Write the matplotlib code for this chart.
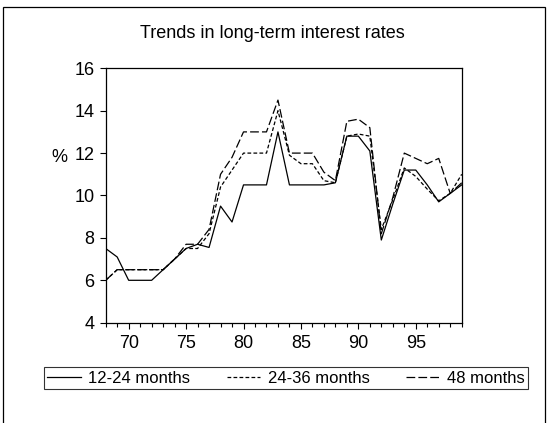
import matplotlib
matplotlib.use("Agg")
import matplotlib.pyplot as plt
from matplotlib.patches import Rectangle

plt.rcParams['font.family'] = ['Liberation Sans', 'DejaVu Sans']

years = list(range(68, 100))
s_12_24 = [7.5, 7.1, 6.0, 6.0, 6.0, 6.5, 7.0, 7.5, 7.7, 7.55, 9.5, 8.75, 10.5, 10.5, 10.5, 13.0,
           10.5, 10.5, 10.5, 10.5, 10.6, 12.8, 12.8, 12.1, 7.9, 9.6, 11.2, 11.2, 10.5, 9.7, 10.1, 10.5]
s_24_36 = [6.0, 6.5, 6.5, 6.5, 6.5, 6.5, 7.0, 7.5, 7.5, 8.2, 10.4, 11.2, 12.0, 12.0, 12.0, 14.0,
           11.9, 11.5, 11.5, 10.7, 10.6, 12.8, 12.9, 12.8, 8.4, 9.8, 11.3, 10.9, 10.3, 9.75, 10.1, 11.0]
s_48 = [6.0, 6.5, 6.5, 6.5, 6.5, 6.5, 7.0, 7.7, 7.7, 8.4, 11.0, 11.8, 13.0, 13.0, 13.0, 14.5,
        12.0, 12.0, 12.0, 11.1, 10.7, 13.5, 13.6, 13.2, 8.2, 9.9, 12.0, 11.75, 11.5, 11.75, 10.1, 10.6]
labels = ['12-24 months', '24-36 months', '48 months']
xticks = [70, 75, 80, 85, 90, 95]
yticks = [4, 6, 8, 10, 12, 14, 16]

W, H = 548, 423
fig = plt.figure(figsize=(W / 100, H / 100), dpi=100)
ax = fig.add_axes([105.7 / W, 1 - 322.7 / H, (461.7 - 105.7) / W, (322.7 - 68.3) / H])

lw = 0.9
ax.plot(years, s_12_24, color='black', lw=lw, linestyle='-', label=labels[0])
ax.plot(years, s_24_36, color='black', lw=lw, linestyle=(0, (3, 1.8)), label=labels[1])
ax.plot(years, s_48, color='black', lw=lw, linestyle=(0, (7, 2.5)), label=labels[2])

ax.set_xlim(68, 99)
ax.set_ylim(4, 16)
ax.set_xticks(xticks)
ax.set_xticks(years, minor=True)
ax.set_yticks(yticks)
ax.tick_params(axis='both', which='major', labelsize=13, length=4, width=0.8, direction='out')
ax.tick_params(axis='x', which='minor', length=3, width=0.8, direction='out')
ax.tick_params(axis='y', pad=4)
ax.tick_params(axis='x', pad=5)
for sp in ax.spines.values():
    sp.set_linewidth(0.9)

fig.text(59 / W, 1 - 157 / H, '%', fontsize=13, ha='center', va='center')
fig.text(272 / W, 1 - 34 / H, 'Trends in long-term interest rates', fontsize=13, ha='center', va='center')

leg = fig.legend(loc='center', bbox_to_anchor=(286 / W, 1 - 378 / H), ncol=3, frameon=True,
                 fontsize=12, handlelength=2.0, handletextpad=0.45, columnspacing=2.2,
                 borderpad=0.2, borderaxespad=0, fancybox=False, edgecolor='black')
leg.get_frame().set_linewidth(0.8)

# outer frame
fig.patches.append(Rectangle((3 / W, -0.05), (545 - 3) / W, 1.05 - 7 / H, transform=fig.transFigure,
                             fill=False, edgecolor='black', lw=0.9))

fig.savefig('out.png', dpi=100)
